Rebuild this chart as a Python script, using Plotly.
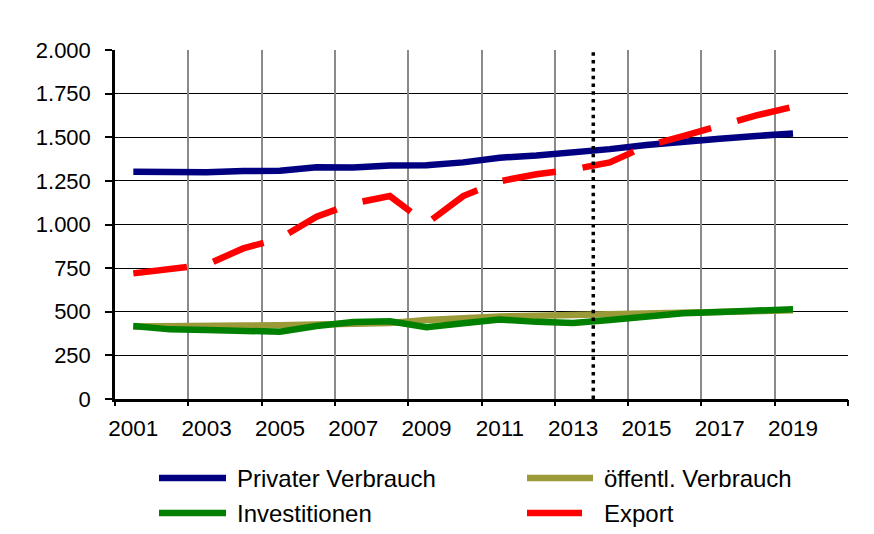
import plotly.graph_objects as go

years = list(range(2001, 2020))
privater_verbrauch = [1302, 1297, 1300, 1306, 1308, 1328, 1326, 1338, 1340, 1356, 1383, 1395, 1410, 1432, 1456, 1477, 1492, 1507, 1522]
oeffentl_verbrauch = [416, 420, 421, 421, 422, 424, 428, 436, 453, 465, 473, 477, 481, 484, 488, 492, 497, 502, 508]
investitionen = [418, 399, 395, 391, 386, 418, 441, 445, 411, 434, 455, 442, 436, 453, 475, 491, 499, 506, 514]
export = [720, 747, 770, 863, 920, 1045, 1121, 1163, 1005, 1163, 1248, 1288, 1316, 1356, 1450, 1507, 1568, 1625, 1675]

series_names = ["Privater Verbrauch", "öffentl. Verbrauch", "Investitionen", "Export"]
label_years = list(range(2001, 2020, 2))
boundary_years = [y + 0.5 for y in range(2000, 2021, 2)]
y_ticks = list(range(0, 2001, 250))
marker_year = 2013.55

colors = {"Privater Verbrauch": "#000080", "öffentl. Verbrauch": "#9a9a38",
          "Investitionen": "#008000", "Export": "#ff0000"}
values = {"Privater Verbrauch": privater_verbrauch, "öffentl. Verbrauch": oeffentl_verbrauch,
          "Investitionen": investitionen, "Export": export}

FONT = "Liberation Sans, Arial, sans-serif"
fig = go.Figure()
for name in series_names:
    fig.add_trace(go.Scatter(
        x=years, y=values[name], mode="lines", name=name, showlegend=False,
        line=dict(color=colors[name], width=6.5,
                  dash="54px,27px" if name == "Export" else "solid"),
    ))

# dotted marker line
fig.add_shape(type="line", xref="x", yref="y", x0=marker_year, x1=marker_year,
              y0=0, y1=2000, line=dict(color="black", width=3.5, dash="3.5px,4.3px"), layer="above")

# manual legend (positions in screen pixels, converted to paper coords)
W, H = 733.0, 349.0
def px_x(p):
    return (p - 115) / W
def px_y(p):
    return (399 - p) / H

legend_layout = [
    ("Privater Verbrauch", 159, 226, 235, 478),
    ("öffentl. Verbrauch", 527, 593, 602, 478),
    ("Investitionen", 159, 226, 235, 513),
    ("Export", 527, 582, 602, 513),
]
for name, sx0, sx1, tx, ty in legend_layout:
    fig.add_shape(type="line", xref="paper", yref="paper",
                  x0=px_x(sx0), x1=px_x(sx1), y0=px_y(ty), y1=px_y(ty),
                  line=dict(color=colors[name], width=6.5, dash="solid"))
    fig.add_annotation(xref="paper", yref="paper", x=px_x(tx), y=px_y(ty),
                       text=name, showarrow=False, xanchor="left", yanchor="middle",
                       font=dict(family=FONT, size=24, color="black"))

fig.update_layout(
    width=866, height=526,
    margin=dict(l=107, r=26, t=42, b=135),
    paper_bgcolor="white", plot_bgcolor="white",
    separators=",.",
    font=dict(family=FONT, size=22, color="black"),
    showlegend=False,
    xaxis=dict(range=[2000.5, 2020.5], tickvals=label_years, ticktext=[str(y) for y in label_years],
               showgrid=False, ticks="", showline=True, linecolor="black", linewidth=2.5,
               zeroline=False, ticklabelstandoff=7, tickfont=dict(size=22.5)),
    xaxis2=dict(range=[2000.5, 2020.5], overlaying="x", matches="x", side="bottom",
                tickvals=boundary_years, showticklabels=False, showgrid=True,
                gridcolor="#8a8a8a", gridwidth=2, ticks="outside", ticklen=6,
                tickcolor="black", tickwidth=1.5, showline=False, zeroline=False),
    yaxis=dict(range=[0, 2000], tickvals=y_ticks, tickformat=",d", showgrid=True,
               gridcolor="black", gridwidth=1, ticks="outside", ticklen=7,
               tickcolor="black", tickwidth=1.5, showline=True, linecolor="black",
               linewidth=2.5, zeroline=False, ticklabelstandoff=10),
)
# attach an invisible trace to the second x axis so its grid and ticks are drawn
fig.add_trace(go.Scatter(x=[years[0]], y=[None], xaxis="x2", showlegend=False, hoverinfo="skip"))

fig.write_html("out.html")
